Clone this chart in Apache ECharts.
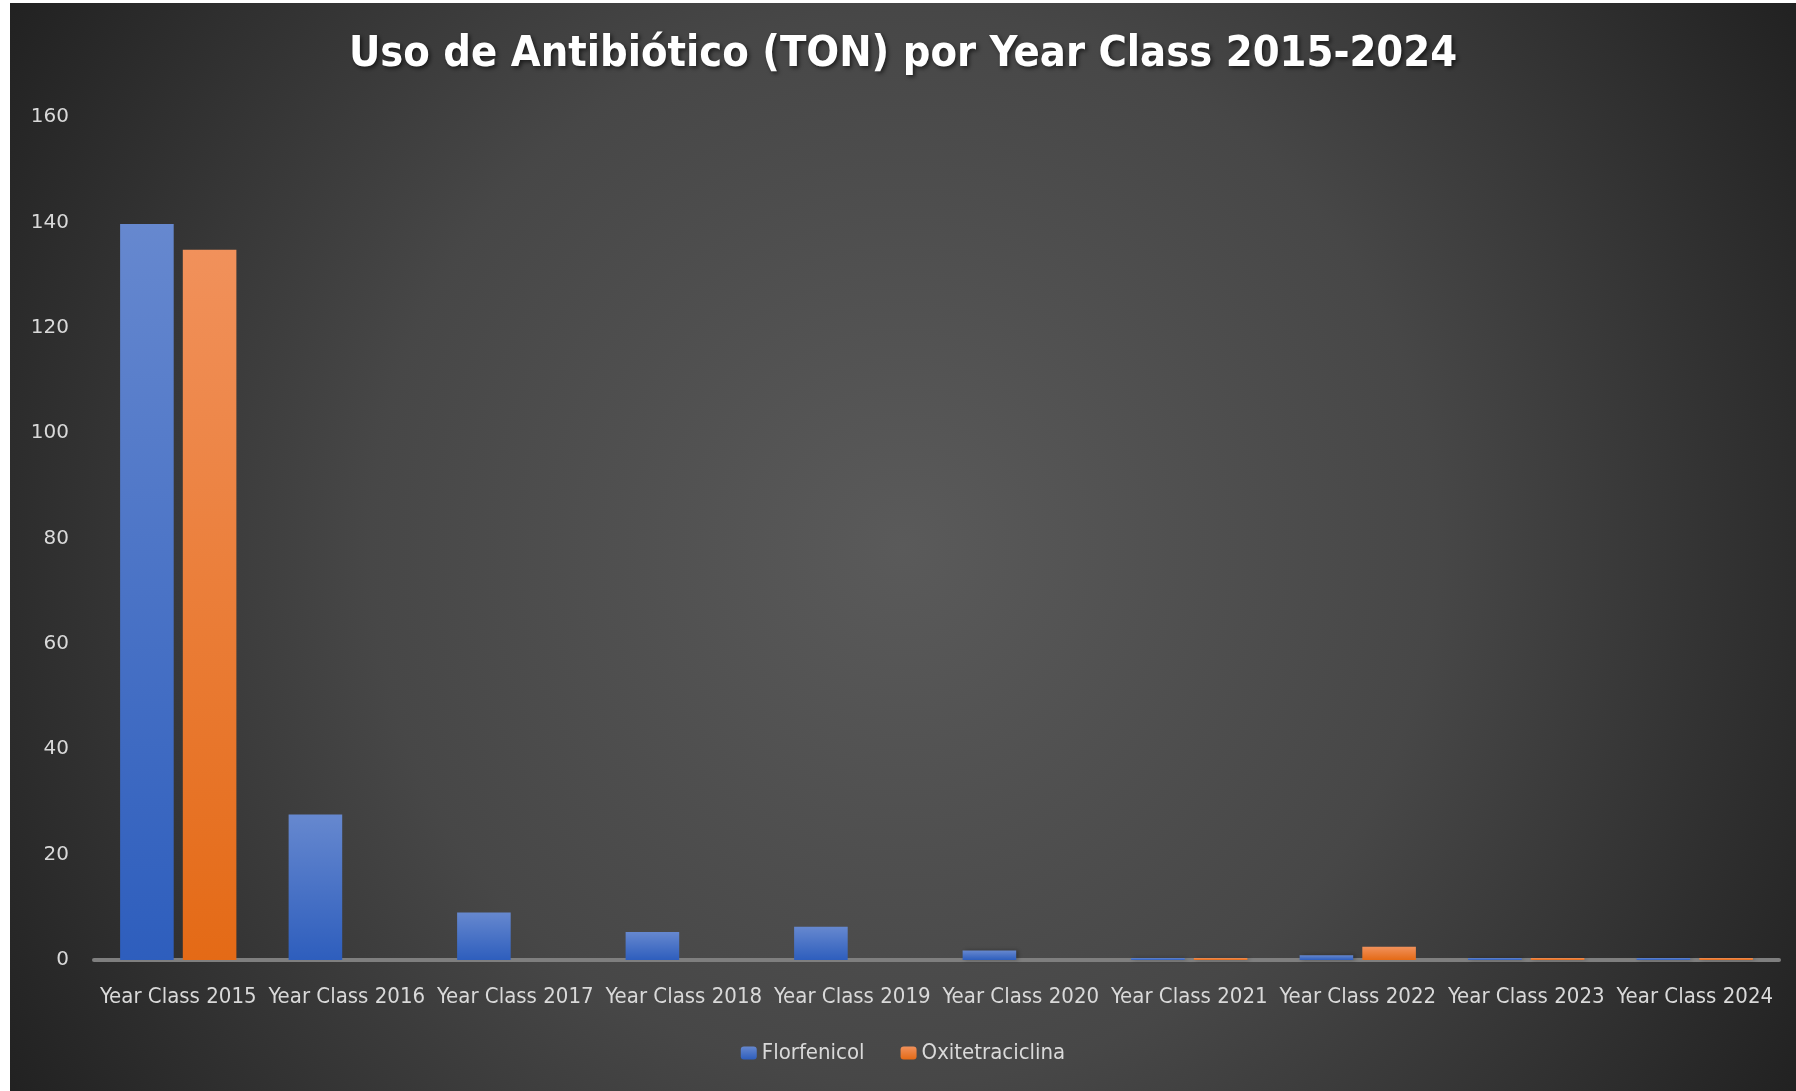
<!DOCTYPE html>
<html>
<head>
<meta charset="utf-8">
<script src="https://cdn.jsdelivr.net/npm/echarts@6/dist/echarts.min.js"></script>
<style>
  html, body { margin: 0; padding: 0; background: #ffffff; }
  #chart { position: absolute; left: 10px; top: 3px; width: 1786px; height: 1088px; }
</style>
</head>
<body>
<div id="chart"></div>
<script>
// datos
var categorias = ['Year Class 2015', 'Year Class 2016', 'Year Class 2017', 'Year Class 2018', 'Year Class 2019',
    'Year Class 2020', 'Year Class 2021', 'Year Class 2022', 'Year Class 2023', 'Year Class 2024'];
var florfenicol = [139.7, 27.6, 9.0, 5.3, 6.3, 1.8, 0.4, 0.9, 0.4, 0.4];
var oxitetraciclina = [134.8, 0, 0, 0, 0, 0, 0.4, 2.5, 0.4, 0.4];
var ejeY = { min: 0, max: 160, interval: 20 };

var myChart = echarts.init(document.getElementById('chart'));

var azul = new echarts.graphic.LinearGradient(0, 0, 0, 1, [
    { offset: 0, color: '#6688cf' },
    { offset: 1, color: '#2e5ebd' }
]);
var naranja = new echarts.graphic.LinearGradient(0, 0, 0, 1, [
    { offset: 0, color: '#f1915b' },
    { offset: 1, color: '#e46a16' }
]);

var option = {
    backgroundColor: new echarts.graphic.RadialGradient(0.5, 0.5, 0.98, [
        { offset: 0, color: '#5a5a5a' },
        { offset: 0.5, color: '#474747' },
        { offset: 1, color: '#202020' }
    ]),
    title: {
        text: 'Uso de Antibiótico (TON) por Year Class 2015-2024',
        left: 'center',
        top: 25,
        textStyle: {
            color: '#ffffff',
            fontFamily: 'DejaVu Sans Condensed, DejaVu Sans, sans-serif',
            fontWeight: 'bold',
            fontSize: 43,
            textShadowColor: 'rgba(0,0,0,0.6)',
            textShadowBlur: 4,
            textShadowOffsetX: 2,
            textShadowOffsetY: 2
        }
    },
    legend: {
        bottom: 22,
        left: 'center',
        itemWidth: 16,
        itemHeight: 13,
        itemGap: 36,
        textStyle: {
            color: '#d9d9d9',
            fontSize: 22,
            fontFamily: 'DejaVu Sans Condensed, DejaVu Sans, sans-serif'
        },
        data: ['Florfenicol', 'Oxitetraciclina']
    },
    grid: {
        left: 84,
        right: 17,
        top: 114,
        bottom: 131
    },
    xAxis: {
        type: 'category',
        data: categorias,
        axisTick: { show: false },
        axisLine: { lineStyle: { color: '#7f7f7f', width: 4 } },
        axisLabel: {
            interval: 0,
            margin: 26,
            color: '#d9d9d9',
            fontSize: 22,
            fontFamily: 'DejaVu Sans Condensed, DejaVu Sans, sans-serif'
        }
    },
    yAxis: {
        type: 'value',
        min: ejeY.min,
        max: ejeY.max,
        interval: ejeY.interval,
        splitLine: { show: false },
        axisLine: { show: false },
        axisTick: { show: false },
        axisLabel: {
            margin: 25,
            color: '#d9d9d9',
            fontSize: 20,
            fontFamily: 'DejaVu Sans, sans-serif'
        }
    },
    series: [
        {
            name: 'Florfenicol',
            type: 'bar',
            data: florfenicol,
            barGap: '17%',
            barCategoryGap: '31%',
            itemStyle: {
                color: azul,
                shadowColor: 'rgba(0,0,0,0.35)',
                shadowBlur: 4,
                shadowOffsetX: 2
            }
        },
        {
            name: 'Oxitetraciclina',
            type: 'bar',
            data: oxitetraciclina,
            itemStyle: {
                color: naranja,
                shadowColor: 'rgba(0,0,0,0.35)',
                shadowBlur: 4,
                shadowOffsetX: 2
            }
        }
    ]
};

myChart.setOption(option);
</script>
</body>
</html>
